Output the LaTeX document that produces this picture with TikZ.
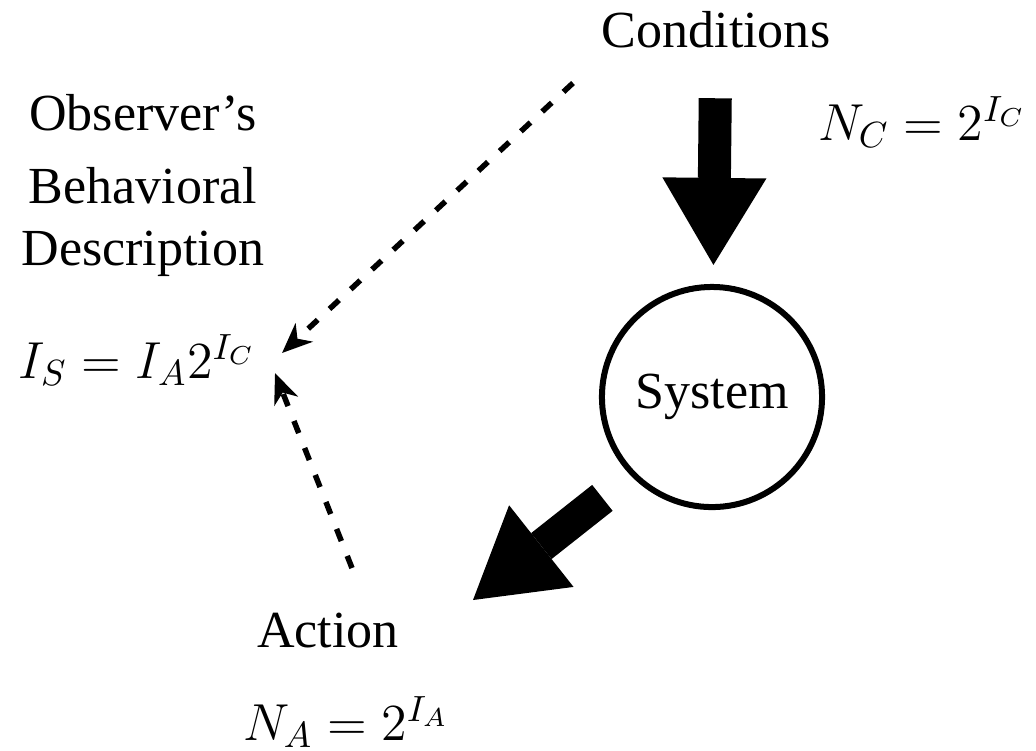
\documentclass[tikz,border=0pt]{standalone}
\usepackage{fix-cm}
\usepackage{amsmath}
\usepackage{fontspec}
\setmainfont{Liberation Serif}
\usetikzlibrary{arrows.meta}

\begin{document}
\begin{tikzpicture}[x=0.01cm, y=-0.01cm,
    every node/.style={font=\fontsize{14.8}{17.6}\selectfont, inner sep=0pt},
    bigarrow/.style={line width=0.33cm, -{Triangle[length=0.87cm, width=1.04cm, line width=0pt]}},
    obsarrow/.style={line width=0.055cm, dash pattern=on 0.13cm off 0.16cm,
        -{Stealth[length=0.3cm, width=0.25cm, inset=0.09cm]}}]

    \useasboundingbox (0,0) rectangle (1036,750);

    % 1. Place the labels and the system circle
    \node[anchor=base] (cond) at (716,47) {Conditions};
    \node[anchor=base] (nc) at (922,140) {$N_C = 2^{I_C}$};
    \node[draw, circle, line width=0.06cm, minimum size=2.2cm] (sys) at (712,397) {System};
    \node[anchor=base] (act) at (328,647) {Action};
    \node[anchor=base] (na) at (346,740) {$N_A = 2^{I_A}$};
    \node[anchor=base] (isys) at (137,378) {$I_S = I_A 2^{I_C}$};
    \node[anchor=north, align=center] (obs) at (143,94) {Observer's\\[3.2pt]Behavioral\\Description};

    % 2. Free ends of the arrows
    \coordinate (a1) at (473,600);   % tip next to Action
    \coordinate (d1) at (573,83);    % start below Conditions
    \coordinate (t1) at (282,353);   % tip next to I_S
    \coordinate (d2) at (352,568);   % start above Action
    \coordinate (t2) at (275,373);   % tip below t1

    % 3. Conditions -> System -> Action
    \draw[bigarrow, shorten <=0.5cm, shorten >=0.19cm] (cond) -- (sys);
    \draw[bigarrow, shorten <=0.36cm] (sys.224) -- (a1);

    % 4. Observer's dashed arrows
    \draw[obsarrow] (d1) -- (t1);
    \draw[obsarrow] (d2) -- (t2);

\end{tikzpicture}
\end{document}
